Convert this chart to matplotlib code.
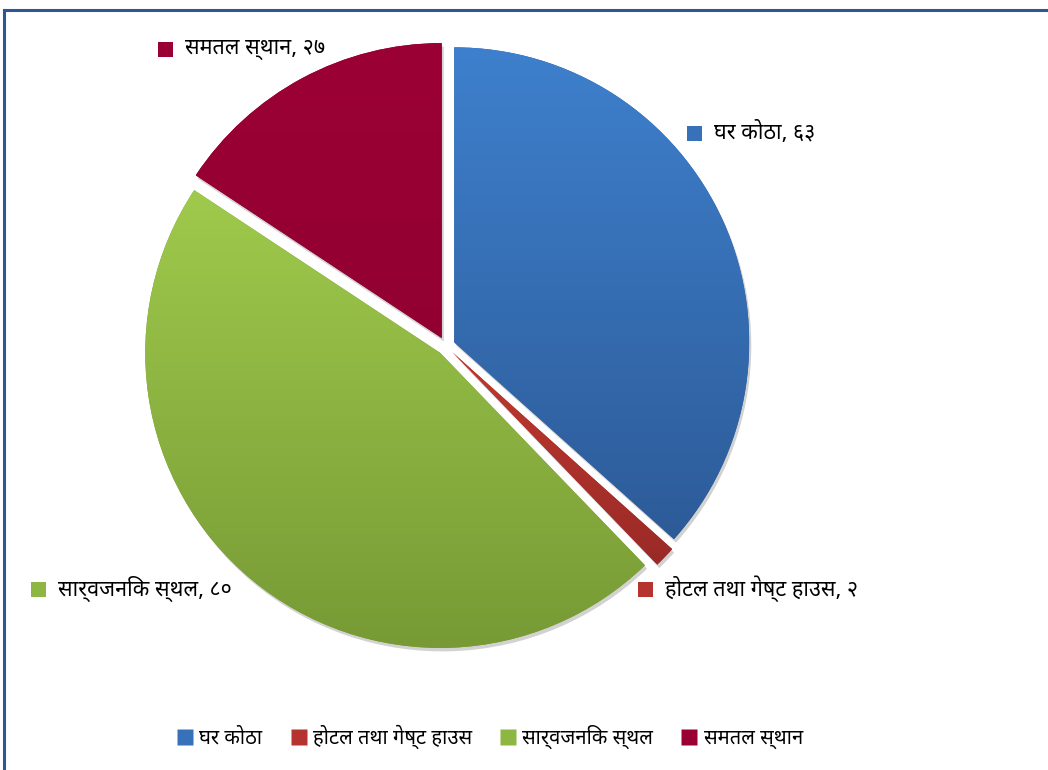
import numpy as np
import matplotlib
matplotlib.use("Agg")
import matplotlib.pyplot as plt
import matplotlib.patheffects as pe
from matplotlib import font_manager
from matplotlib.ft2font import FT2Font
from matplotlib.patches import Rectangle
from matplotlib.lines import Line2D

# ── data ──────────────────────────────────────────────────────────────────────
CATEGORIES = ["घर कोठा", "होटल तथा गेष्ट हाउस", "सार्वजनिक स्थल", "समतल स्थान"]
VALUES     = [63, 2, 80, 27]

# (top colour, bottom colour) of the vertical gradient in each slice
COLORS = [("#3E80CD", "#2D5B98"),
          ("#C0392F", "#9A2A27"),
          ("#9FCA4C", "#779A35"),
          ("#9C0035", "#920032")]
KEY_COLORS = ["#3671BA", "#B53430", "#8DB642", "#990033"]

DEV_DIGITS = str.maketrans("0123456789", "०१२३४५६७८९")


def find_devanagari_font():
    hits = []
    for f in font_manager.fontManager.ttflist:
        try:
            if 0x0915 in FT2Font(f.fname).get_charmap():
                hits.append(f.name)
        except Exception:
            pass
    for pref in ("Noto Sans Devanagari", "Lohit Devanagari", "FreeSans", "Mukta"):
        if pref in hits:
            return pref
    return hits[0] if hits else None


dev = find_devanagari_font()
plt.rcParams["font.family"] = ([dev] if dev else []) + ["DejaVu Sans"]

W, H = 1048, 770
fig = plt.figure(figsize=(W / 100, H / 100), dpi=100)
fig.patch.set_facecolor("white")
ax = fig.add_axes([0, 0, 1, 1])

CX, CY, R = 446, H - 346, 295
explode = [9] * len(VALUES)

wedges, _ = ax.pie(VALUES, center=(CX, CY), radius=R, startangle=90,
                   counterclock=False, explode=explode,
                   colors=[c[1] for c in COLORS],
                   wedgeprops=dict(linewidth=0))
ax.set_xlim(0, W)
ax.set_ylim(0, H)
ax.set_aspect("auto")
ax.axis("off")

# soft shadow + vertical gradient, clipped to each wedge
for w, (top, bot) in zip(wedges, COLORS):
    w.set_path_effects([pe.SimplePatchShadow(offset=(1.5, -2.5), shadow_rgbFace="#808080", alpha=0.35),
                        pe.Normal()])
    bb = w.get_path().get_extents(w.get_patch_transform())
    c0 = np.array(matplotlib.colors.to_rgb(top))
    c1 = np.array(matplotlib.colors.to_rgb(bot))
    t = np.linspace(0, 1, 256)[:, None]
    grad = (c0[None, :] * (1 - t) + c1[None, :] * t)[:, None, :]
    im = ax.imshow(grad, extent=(bb.x0, bb.x1, bb.y0, bb.y1), origin="upper",
                   aspect="auto", zorder=2, interpolation="bilinear")
    im.set_clip_path(w)

ax.set_xlim(0, W)
ax.set_ylim(0, H)

# ── data labels with colour keys ─────────────────────────────────────────────
LABEL_POS = [(714, 133), (665, 589), (58, 589), (185, 49)]
for (lx, ly), cat, val, kc in zip(LABEL_POS, CATEGORIES, VALUES, KEY_COLORS):
    ax.add_patch(Rectangle((lx - 27, H - ly - 8), 15, 15, facecolor=kc,
                           edgecolor="none", zorder=3))
    ax.text(lx, H - ly, f"{cat}, {str(val).translate(DEV_DIGITS)}",
            fontsize=15.5, color="black", ha="left", va="center", zorder=3)

# ── bottom legend ────────────────────────────────────────────────────────────
handles = [Line2D([0], [0], marker="s", linestyle="none", markersize=11,
                  markerfacecolor=kc, markeredgecolor="none", label=cat)
           for cat, kc in zip(CATEGORIES, KEY_COLORS)]
fig.legend(handles=handles, loc="center", bbox_to_anchor=(490 / W, 1 - 737 / H),
           ncol=4, frameon=False, fontsize=14.5, handlelength=0.8,
           handletextpad=0.3, columnspacing=1.4)

# ── frame lines (top and left) ───────────────────────────────────────────────
ax.add_line(Line2D([4, W], [H - 10, H - 10], color="#2F5597", linewidth=2.2, zorder=5))
ax.add_line(Line2D([4, 4], [0, H - 10], color="#2F5597", linewidth=2.2, zorder=5))

fig.savefig("out.png", dpi=100)
